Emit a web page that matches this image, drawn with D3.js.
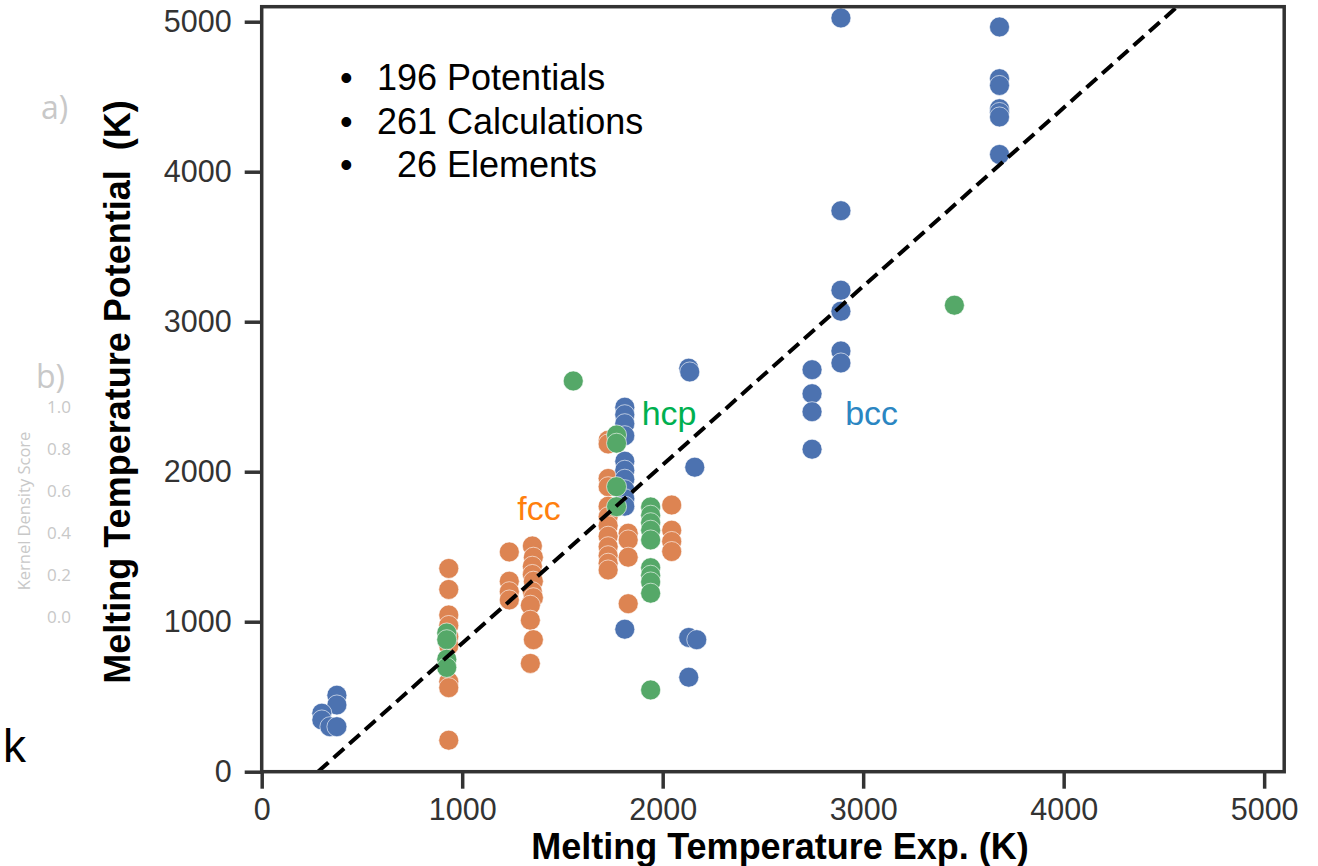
<!DOCTYPE html>
<html><head><meta charset="utf-8">
<script src="https://cdn.jsdelivr.net/npm/d3@7"></script>
<style>
body{margin:0;background:#fff;}
svg text{font-family:"Liberation Sans",Arial,sans-serif;}
</style></head><body>
<svg id="chart" width="1318" height="866"></svg>
<script>
// ---- data ----
const bccPoints = [
  [375,510],[375,445],[300,390],[300,345],[340,300],[375,300],
  [1811,2430],[1811,2380],[1811,2320],[1811,2240],[1811,2070],[1811,2010],[1811,1950],[1811,1880],[1811,1820],[1811,1770],[1811,950],
  [2130,2690],[2135,2665],[2160,2030],[2130,895],[2170,880],[2130,630],
  [2745,2680],[2745,2520],[2745,2400],[2745,2150],
  [2889,5025],[2889,3740],[2889,3210],[2889,3070],[2889,2805],[2889,2725],
  [3680,4965],[3680,4620],[3680,4575],[3680,4420],[3680,4395],[3680,4365],[3680,4115]
];
const fccPoints = [
  [933,1355],[933,1215],[933,1045],[933,975],[933,900],[933,840],[933,600],[933,560],[933,210],
  [1235,1465],[1235,1270],[1235,1200],[1235,1145],
  [1350,1505],[1355,1430],[1350,1370],[1350,1315],[1355,1270],[1350,1200],[1355,1160],[1340,1110],[1340,1010],[1355,880],[1340,722],
  [1728,2210],[1728,2185],[1728,1955],[1728,1900],[1728,1770],[1728,1700],[1728,1640],[1728,1570],[1728,1500],[1728,1440],[1728,1390],[1728,1345],
  [1828,1590],[1828,1545],[1828,1430],[1828,1120],
  [2045,1778],[2045,1610],[2045,1535],[2045,1468]
];
const hcpPoints = [
  [3455,3110],[1554,2605],
  [1770,2245],[1770,2190],[1770,1900],[1770,1767],
  [1940,1765],[1940,1710],[1940,1660],[1940,1610],[1940,1545],[1940,1360],[1940,1310],[1940,1265],[1940,1190],[1940,545],
  [923,925],[923,880],[923,750],[923,695]
];
const xTicks = [0,1000,2000,3000,4000,5000];
const yTicks = [0,1000,2000,3000,4000,5000];
const fitSlope = 1.19, fitIntercept = -334;
const statLines = ["196 Potentials","261 Calculations","  26 Elements"];
const kdeTickLabels = ["1.0","0.8","0.6","0.4","0.2","0.0"];
const phaseLabels = [
  {text:"fcc", x:1275, y:1675, color:"#ff7f0e"},
  {text:"hcp", x:1895, y:2310, color:"#00b050"},
  {text:"bcc", x:2910, y:2310, color:"#2b86c2"}
];

const svg = d3.select("#chart");
const x = d3.scaleLinear().domain([0,5100]).range([261.7,1284.2]);
const y = d3.scaleLinear().domain([0,5100]).range([771.7,6.7]);

// faded neighbouring-panel remnants
const faded = "#c8c8c8";
const sansO = "'Open Sans','Noto Sans',sans-serif";
svg.append("text").attr("x",41).attr("y",119).attr("font-size",32).attr("fill",faded)
  .style("font-family",sansO).text("a)");
svg.append("text").attr("x",36).attr("y",388).attr("font-size",32).attr("fill",faded)
  .style("font-family",sansO).text("b)");
const kdeY = d3.scalePoint().domain(kdeTickLabels).range([407,617]);
svg.selectAll("text.kde").data(kdeTickLabels).join("text").attr("class","kde")
  .attr("x",71).attr("y",d=>kdeY(d)).attr("dy","0.35em").attr("text-anchor","end")
  .attr("font-size",17).attr("fill",faded).style("font-family",sansO).text(d=>d);
svg.append("text").attr("transform","translate(30,511) rotate(-90)").attr("text-anchor","middle")
  .attr("font-size",16.5).attr("fill",faded).style("font-family",sansO).text("Kernel Density Score");
svg.append("text").attr("x",3).attr("y",762).attr("font-size",46).attr("fill","#000").text("k");

// axes
const tickColor = "#333";
const gx = svg.append("g").attr("transform","translate(0,771.7)")
  .call(d3.axisBottom(x).tickValues(xTicks).tickSize(17).tickPadding(10).tickFormat(d3.format("d")));
const gy = svg.append("g").attr("transform","translate(261.7,0)")
  .call(d3.axisLeft(y).tickValues(yTicks).tickSize(17).tickPadding(13).tickFormat(d3.format("d")));
[gx,gy].forEach(g=>{
  g.select(".domain").remove();
  g.selectAll(".tick line").attr("stroke",tickColor).attr("stroke-width",3.5);
  g.selectAll(".tick text").attr("fill",tickColor).attr("font-size",30.5)
    .style("font-family","'Liberation Sans',Arial,sans-serif");
});

// clip
svg.append("clipPath").attr("id","plotclip").append("rect")
  .attr("x",x(0)).attr("y",y(5100)).attr("width",x(5100)-x(0)).attr("height",y(0)-y(5100));
const plot = svg.append("g").attr("clip-path","url(#plotclip)");

const series = [
  {pts:fccPoints, color:"#dd8452"},
  {pts:bccPoints, color:"#4c72b0"},
  {pts:hcpPoints, color:"#55a868"}
];
series.forEach(s=>{
  plot.append("g").selectAll("circle").data(s.pts).join("circle")
    .attr("cx",d=>x(d[0])).attr("cy",d=>y(d[1])).attr("r",10)
    .attr("fill",s.color).attr("stroke","#fff").attr("stroke-width",0.6);
});

// fit line
const fitX = [fitIntercept/-fitSlope, 5100];
plot.append("path")
  .attr("d", d3.line().x(d=>x(d)).y(d=>y(fitSlope*d+fitIntercept))(fitX))
  .attr("fill","none").attr("stroke","#000").attr("stroke-width",4).attr("stroke-dasharray","14,7");

// frame
svg.append("rect").attr("x",x(0)).attr("y",y(5100)).attr("width",x(5100)-x(0)).attr("height",y(0)-y(5100))
  .attr("fill","none").attr("stroke",tickColor).attr("stroke-width",3.5);

// phase labels
svg.selectAll("text.phase").data(phaseLabels).join("text").attr("class","phase")
  .attr("x",d=>x(d.x)).attr("y",d=>y(d.y)).attr("font-size",34).attr("fill",d=>d.color).text(d=>d.text);

// stats block
statLines.forEach((t,i)=>{
  const by = 90 + i*43.5;
  svg.append("text").attr("x",340).attr("y",by).attr("font-size",36).attr("fill","#000").text("\u2022");
  svg.append("text").attr("x",377).attr("y",by).attr("font-size",36).attr("fill","#000")
    .style("white-space","pre").text(t);
});

// axis titles
svg.append("text").attr("x",780).attr("y",859).attr("text-anchor","middle")
  .attr("font-size",36).attr("font-weight","bold").attr("fill","#000").text("Melting Temperature Exp. (K)");
svg.append("text").attr("transform","translate(130,392) rotate(-90)").attr("text-anchor","middle")
  .attr("font-size",36).attr("font-weight","bold").attr("fill","#000").style("white-space","pre")
  .text("Melting Temperature Potential  (K)");
</script>
</body></html>
